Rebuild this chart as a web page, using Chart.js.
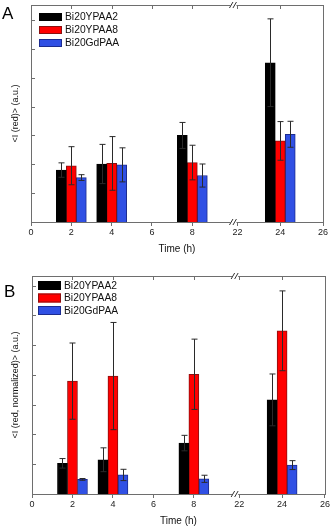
<!DOCTYPE html>
<html>
<head>
<meta charset="utf-8">
<script src="https://cdn.jsdelivr.net/npm/chart.js@4.4.1/dist/chart.umd.min.js"></script>
<style>
  body { margin: 0; background: #fff; }
  .panel { position: relative; width: 331px; height: 264px; }
</style>
</head>
<body>
<div class="panel"><canvas id="chartA"></canvas></div>
<div class="panel"><canvas id="chartB"></canvas></div>
<script>
// time points (h) and x tick labels
const hours = [2, 4, 8, 24];
const xTickLabels = [0, 2, 4, 6, 8, 22, 24, 26];
const seriesNames = ['Bi20YPAA2', 'Bi20YPAA8', 'Bi20GdPAA'];

// panel A: <I (red)>
const aYPAA2 = [1.80, 2.01, 3.00, 5.52];
const aYPAA2Err = [0.25, 0.68, 0.45, 1.52];
const aYPAA8 = [1.95, 2.03, 2.06, 2.81];
const aYPAA8Err = [0.66, 0.93, 0.60, 0.67];
const aGdPAA = [1.54, 1.98, 1.61, 3.04];
const aGdPAAErr = [0.10, 0.59, 0.40, 0.45];

// panel B: <I (red, normalized)>
const bYPAA2 = [1.03, 1.15, 1.71, 3.16];
const bYPAA2Err = [0.16, 0.40, 0.26, 0.87];
const bYPAA8 = [3.79, 3.96, 4.02, 5.48];
const bYPAA8Err = [1.28, 1.80, 1.18, 1.34];
const bGdPAA = [0.49, 0.64, 0.51, 0.97];
const bGdPAAErr = [0.03, 0.19, 0.12, 0.15];

const fills = ['#000000', '#ff0000', '#3050e4'];
const edges = ['#000000', '#8a1010', '#1c2c90'];
const frameColor = '#6e6e6e';

// broken axis: 0..8 kept, 22..26 moved next to it
function brk(h) {
  return h <= 8 ? h : 10.24 + (h - 22) * 1.06;
}
const breakAt = 10.04;

const decorPlugin = {
  id: 'decor',
  afterDatasetsDraw(chart) {
    const ctx = chart.ctx;
    const o = chart.options.plugins.decor;
    const xs = chart.scales.x, ys = chart.scales.y;
    const a = chart.chartArea;

    // error bars
    ctx.save();
    ctx.strokeStyle = '#2a2a2a';
    ctx.lineWidth = 1;
    chart.data.datasets.forEach((ds, di) => {
      const meta = chart.getDatasetMeta(di);
      meta.data.forEach((bar, i) => {
        const v = ds.data[i].y, e = ds.err[i];
        const x = Math.round(bar.x) + 0.5;
        const yt = ys.getPixelForValue(v + e), yb = ys.getPixelForValue(v - e);
        ctx.beginPath();
        ctx.moveTo(x, yt); ctx.lineTo(x, yb);
        ctx.moveTo(x - 3, yt); ctx.lineTo(x + 3, yt);
        ctx.moveTo(x - 3, yb); ctx.lineTo(x + 3, yb);
        ctx.stroke();
      });
    });

    // frame
    ctx.strokeStyle = frameColor;
    ctx.lineWidth = 1;
    ctx.strokeRect(Math.round(a.left) + 0.5, Math.round(a.top) + 0.5,
      Math.round(a.right - a.left), Math.round(a.bottom - a.top));

    // inward ticks: top and left
    ctx.beginPath();
    xTickLabels.forEach(t => {
      const x = Math.round(xs.getPixelForValue(brk(t))) + 0.5;
      ctx.moveTo(x, a.top); ctx.lineTo(x, a.top + 4);
    });
    for (let v = 0; v <= ys.max; v += 1) {
      const y = Math.round(ys.getPixelForValue(v)) + 0.5;
      ctx.moveTo(a.left, y); ctx.lineTo(a.left + 4, y);
    }
    ctx.stroke();

    // axis break marks
    const bx = xs.getPixelForValue(breakAt);
    [a.top, a.bottom].forEach(y0 => {
      ctx.fillStyle = '#fff';
      ctx.fillRect(bx - 3, y0 - 2, 6, 4);
      ctx.strokeStyle = '#333';
      ctx.beginPath();
      ctx.moveTo(bx - 4, y0 + 3); ctx.lineTo(bx - 0.5, y0 - 3);
      ctx.moveTo(bx - 0.5, y0 + 3); ctx.lineTo(bx + 3, y0 - 3);
      ctx.stroke();
    });

    // legend
    ctx.font = o.legendFont + 'px "Liberation Sans", Arial, sans-serif';
    ctx.textBaseline = 'middle';
    chart.data.datasets.forEach((ds, di) => {
      const y = o.legendY + di * o.legendGap;
      ctx.fillStyle = ds.backgroundColor;
      ctx.fillRect(o.legendX, y - o.boxH / 2, 23, o.boxH);
      ctx.strokeStyle = ds.borderColor;
      ctx.strokeRect(o.legendX + 0.5, y - o.boxH / 2 + 0.5, 22, o.boxH - 1);
      ctx.fillStyle = '#111';
      ctx.fillText(ds.label, o.legendX + 26, y + 0.5);
    });

    // panel letter
    ctx.font = '17px "Liberation Sans", Arial, sans-serif';
    ctx.textBaseline = 'alphabetic';
    ctx.fillStyle = '#000';
    ctx.fillText(o.letter, o.letterX, o.letterY);
    ctx.restore();
  }
};

function makePanel(id, vals, errs, p) {
  const datasets = seriesNames.map((name, k) => ({
    label: name,
    data: hours.map((h, i) => ({ x: brk(h), y: vals[k][i] })),
    err: errs[k],
    backgroundColor: fills[k],
    borderColor: edges[k],
    borderWidth: 1,
    barThickness: 10
  }));

  return new Chart(document.getElementById(id), {
    type: 'bar',
    data: { datasets: datasets },
    options: {
      responsive: true,
      maintainAspectRatio: false,
      animation: false,
      devicePixelRatio: 1,
      layout: { padding: { top: p.top, right: p.right, left: 0, bottom: 0 } },
      scales: {
        x: {
          type: 'linear',
          offset: false,
          min: 0,
          max: brk(26),
          afterBuildTicks: (scale) => {
            scale.ticks = xTickLabels.map(v => ({ value: brk(v) }));
          },
          afterFit: (scale) => { scale.height = p.xHeight; },
          ticks: {
            autoSkip: false,
            maxRotation: 0,
            padding: 1,
            color: '#222',
            font: { family: '"Liberation Sans", Arial', size: 9 },
            callback: (val, i) => xTickLabels[i]
          },
          grid: { drawOnChartArea: false, tickLength: 4, color: frameColor, offset: false },
          border: { display: false },
          title: {
            display: true,
            text: 'Time (h)',
            color: '#111',
            font: { family: '"Liberation Sans", Arial', size: p.titleSize },
            padding: { top: 0, bottom: p.titlePad }
          }
        },
        y: {
          min: 0,
          max: p.yMax,
          afterFit: (scale) => { scale.width = p.yWidth; },
          ticks: { display: false, stepSize: 1 },
          grid: { display: false },
          border: { display: false },
          title: {
            display: true,
            text: p.yTitle,
            color: '#111',
            font: { family: '"Liberation Sans", Arial', size: 9 },
            padding: { top: p.yTitlePad, bottom: 0 }
          }
        }
      },
      plugins: {
        legend: { display: false },
        tooltip: { enabled: false },
        decor: p.decor
      }
    },
    plugins: [decorPlugin]
  });
}

makePanel('chartA',
  [aYPAA2, aYPAA8, aGdPAA],
  [aYPAA2Err, aYPAA8Err, aGdPAAErr],
  {
    top: 5, right: 8, xHeight: 42, yWidth: 31, yMax: 7.52,
    titleSize: 10, titlePad: 8.5, yTitlePad: 10,
    yTitle: '<I (red)> (a.u.)',
    decor: { letter: 'A', letterX: 2, letterY: 19, legendX: 39, legendY: 17, legendGap: 13, boxH: 8, legendFont: 10.3 }
  });

makePanel('chartB',
  [bYPAA2, bYPAA8, bGdPAA],
  [bYPAA2Err, bYPAA8Err, bGdPAAErr],
  {
    top: 12, right: 6, xHeight: 34, yWidth: 32, yMax: 7.32,
    titleSize: 10, titlePad: 0.5, yTitlePad: 10,
    yTitle: '<I (red, normalized)> (a.u.)',
    decor: { letter: 'B', letterX: 4, letterY: 33, legendX: 38, legendY: 21.5, legendGap: 12.5, boxH: 9, legendFont: 10.3 }
  });
</script>
</body>
</html>
